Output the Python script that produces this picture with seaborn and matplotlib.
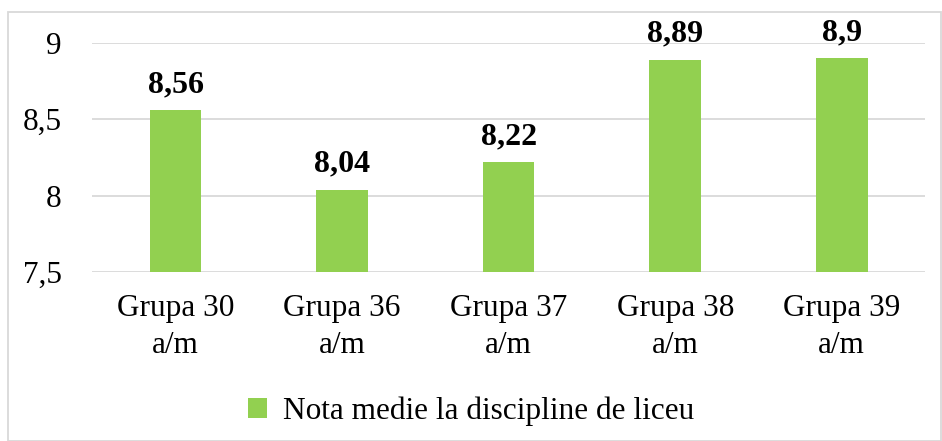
import matplotlib
matplotlib.use("Agg")
import matplotlib.pyplot as plt
import seaborn as sns
import pandas as pd
from matplotlib.patches import Rectangle, Patch

categories = ["Grupa 30\na/m", "Grupa 36\na/m", "Grupa 37\na/m", "Grupa 38\na/m", "Grupa 39\na/m"]
values = [8.56, 8.04, 8.22, 8.89, 8.9]
value_labels = ["8,56", "8,04", "8,22", "8,89", "8,9"]
yticks = [7.5, 8.0, 8.5, 9.0]
ytick_labels = ["7,5", "8", "8,5", "9"]
series_name = "Nota medie la discipline de liceu"

sns.set_theme(style="white")
plt.rcParams["font.family"] = ["Liberation Serif", "DejaVu Serif"]
plt.rcParams["text.color"] = "black"
plt.rcParams["xtick.color"] = "black"
plt.rcParams["ytick.color"] = "black"

green = "#92D050"
grid_c = "#D9D9D9"
fs = 22.5

df = pd.DataFrame({"cat": categories, "val": values})

fig = plt.figure(figsize=(9.42, 4.41), dpi=100)
ax = fig.add_axes([0.098, 0.383, 0.884, 0.520])

sns.barplot(data=df, x="cat", y="val", color=green, width=0.31, ax=ax,
            saturation=1, edgecolor="none", zorder=3)

ax.set_ylim(7.5, 9.0)
ax.set_yticks(yticks)
ax.set_yticklabels(ytick_labels, fontsize=fs)
ax.tick_params(axis="x", labelsize=fs, length=0, pad=16)
ax.tick_params(axis="y", length=0, pad=22)
for t in ax.get_xticklabels():
    t.set_linespacing(1.35)
ax.set_xlabel("")
ax.set_ylabel("")
for s in ax.spines.values():
    s.set_visible(False)
ax.yaxis.grid(True, color=grid_c, linewidth=1.3, zorder=0)
ax.set_axisbelow(True)

for i, (v, lab) in enumerate(zip(values, value_labels)):
    ax.annotate(lab, (i, v), xytext=(0, 8), textcoords="offset points",
                ha="center", va="bottom", fontsize=23, fontweight="bold")

handle = Patch(facecolor=green, edgecolor="none")
fig.legend([handle], [series_name], loc="center", bbox_to_anchor=(0.5, 0.068),
           frameon=False, fontsize=fs, handlelength=0.6, handleheight=0.6,
           handletextpad=0.5)

fig.patches.append(Rectangle((0.009, 0.0), 0.99, 0.972, transform=fig.transFigure,
                             fill=False, edgecolor=grid_c, linewidth=1.3))

fig.savefig("out.png", dpi=100)
